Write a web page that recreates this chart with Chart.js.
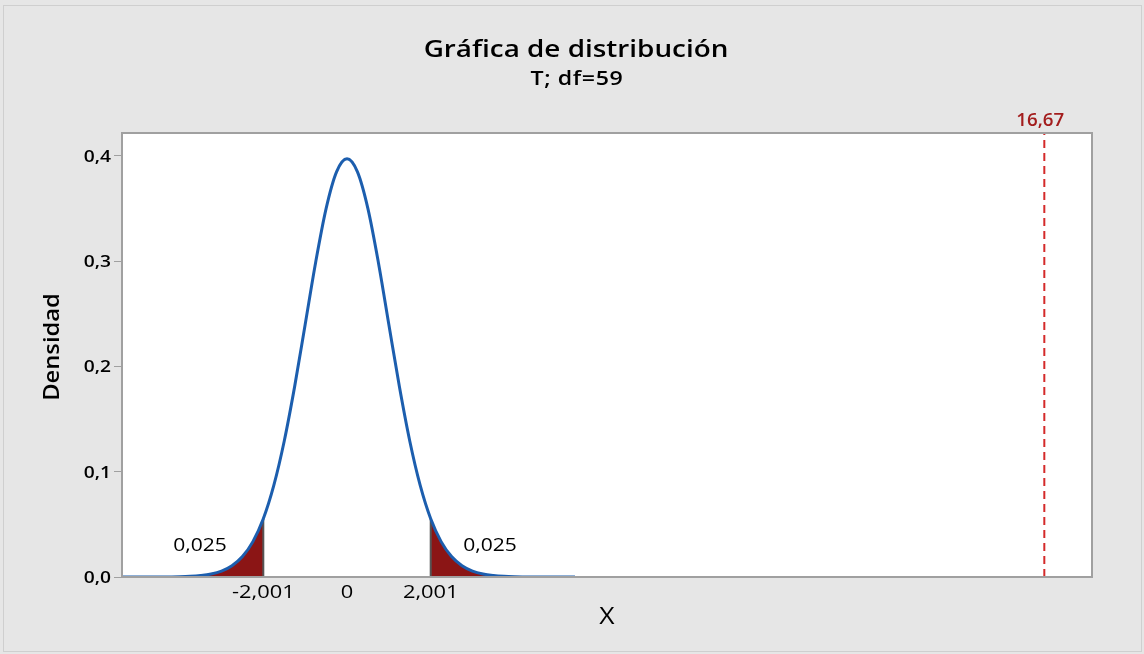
<!DOCTYPE html>
<html>
<head>
<meta charset="utf-8">
<script src="https://cdn.jsdelivr.net/npm/chart.js@4/dist/chart.umd.min.js"></script>
<style>
  html, body { margin: 0; padding: 0; background: #e6e6e6; }
  #wrap { width: 1144px; height: 654px; }
</style>
</head>
<body>
<div id="wrap"><canvas id="distChart" width="1144" height="654"></canvas></div>
<script>
// ── Data ──────────────────────────────────────────────────
const xVals = [-5.45, -5, -4.5, -4, -3.75, -3.5, -3.25, -3, -2.75, -2.5, -2.25, -2.001,
  -1.75, -1.5, -1.25, -1, -0.75, -0.5, -0.25, 0,
  0.25, 0.5, 0.75, 1, 1.25, 1.5, 1.75,
  2.001, 2.25, 2.5, 2.75, 3, 3.25, 3.5, 3.75, 4, 4.5, 5, 5.45];
const density = [0, 0.00001, 0.00006, 0.0003, 0.00065, 0.0014, 0.0028, 0.0056, 0.0107, 0.0194, 0.0336, 0.0553,
  0.0870, 0.1292, 0.1813, 0.2399, 0.2988, 0.3499, 0.3848, 0.3972,
  0.3848, 0.3499, 0.2988, 0.2399, 0.1813, 0.1292, 0.0870,
  0.0553, 0.0336, 0.0194, 0.0107, 0.0056, 0.0028, 0.0014, 0.00065, 0.0003, 0.00006, 0.00001, 0];

const critLow  = -2.001;
const critHigh = 2.001;
const tailArea = '0,025';
const testStat = 16.67;
const testLabel = '16,67';

const xTicks      = [-2.001, 0, 2.001];
const xTickLabels = ['-2,001', '0', '2,001'];
const yTicks      = [0, 0.1, 0.2, 0.3, 0.4];
const yTickLabels = ['0,0', '0,1', '0,2', '0,3', '0,4'];

const X_MIN = -5.379, X_MAX = 17.81, Y_MAX = 0.4217;

// ── Colours / fonts ───────────────────────────────────────
const BG        = '#e6e6e6';
const FRAME     = '#a0a0a0';
const CURVE     = '#1c5eae';
const TAIL_FILL = '#8b1515';
const CRIT_LINE = '#555555';
const REF_LINE  = '#d42a2a';
const REF_TEXT  = '#a31d1d';
const FONT      = "'Open Sans', 'Noto Sans', sans-serif";

const pts = xVals.map((x, i) => ({ x: x, y: density[i] }));
const leftTail  = pts.filter(p => p.x <= critLow);
const rightTail = pts.filter(p => p.x >= critHigh);
const critIdxL = xVals.indexOf(critLow);
const critIdxH = xVals.indexOf(critHigh);

// text helper: k stretches the text along its baseline (reference font runs wide)
function txt(ctx, s, x, y, font, o) {
  o = o || {};
  ctx.save();
  ctx.translate(x, y);
  if (o.rot) ctx.rotate(o.rot);
  ctx.scale(o.k || 1, 1);
  ctx.font = font;
  ctx.fillStyle = o.color || '#000';
  ctx.textAlign = o.align || 'center';
  ctx.textBaseline = o.base || 'alphabetic';
  if (o.ls) ctx.letterSpacing = o.ls;
  ctx.fillText(s, 0, 0);
  ctx.restore();
}

// ── Custom drawing: backgrounds, frame, titles, labels ────
const decor = {
  id: 'decor',
  beforeDraw(chart) {
    const { ctx, chartArea: a } = chart;
    ctx.save();
    ctx.fillStyle = BG;
    ctx.fillRect(0, 0, chart.width, chart.height);
    ctx.strokeStyle = '#cfcfcf';
    ctx.lineWidth = 1;
    ctx.strokeRect(3.5, 5.5, chart.width - 6, chart.height - 8);
    ctx.fillStyle = '#ffffff';
    ctx.fillRect(a.left, a.top, a.right - a.left, a.bottom - a.top);
    ctx.restore();
  },
  afterDraw(chart) {
    const { ctx, chartArea: a, scales } = chart;
    const sx = scales.x, sy = scales.y;
    ctx.save();
    // plot frame
    ctx.strokeStyle = FRAME;
    ctx.lineWidth = 2;
    ctx.strokeRect(a.left, a.top, a.right - a.left, a.bottom - a.top);
    ctx.restore();

    txt(ctx, 'Gráfica de distribución', 576, 57, `600 24px ${FONT}`, { k: 1.16 });
    txt(ctx, 'T; df=59', 577, 85, `600 19px ${FONT}`, { k: 1.22, ls: '0.5px' });

    // tick labels from the library's scales
    yTicks.forEach((v, i) => {
      txt(ctx, yTickLabels[i], a.left - 11, sy.getPixelForValue(v) + 6, `600 16px ${FONT}`, { k: 1.2, align: 'right' });
    });
    xTicks.forEach((v, i) => {
      txt(ctx, xTickLabels[i], sx.getPixelForValue(v), 598, `400 19px ${FONT}`, { k: 1.15 });
    });

    // axis titles
    txt(ctx, 'X', (a.left + a.right) / 2, 624, `400 23px ${FONT}`, { k: 1.15 });
    txt(ctx, 'Densidad', 59, 347, `600 21px ${FONT}`, { k: 1.13, rot: -Math.PI / 2 });

    // tail areas
    txt(ctx, tailArea, 200, 551, `400 18px ${FONT}`, { k: 1.17 });
    txt(ctx, tailArea, 490, 551, `400 18px ${FONT}`, { k: 1.17 });

    // reference value label
    txt(ctx, testLabel, sx.getPixelForValue(testStat) - 4, 126, `600 18px ${FONT}`, { k: 1.04, color: REF_TEXT });
  }
};

new Chart(document.getElementById('distChart'), {
  type: 'line',
  data: {
    datasets: [
      {
        data: leftTail,
        borderWidth: 0,
        pointRadius: 0,
        fill: 'origin',
        backgroundColor: TAIL_FILL,
        cubicInterpolationMode: 'monotone',
        order: 3
      },
      {
        data: rightTail,
        borderWidth: 0,
        pointRadius: 0,
        fill: 'origin',
        backgroundColor: TAIL_FILL,
        cubicInterpolationMode: 'monotone',
        order: 3
      },
      {
        data: [{ x: critLow, y: 0 }, { x: critLow, y: density[critIdxL] }],
        borderColor: CRIT_LINE,
        borderWidth: 2,
        pointRadius: 0,
        fill: false,
        order: 2
      },
      {
        data: [{ x: critHigh, y: 0 }, { x: critHigh, y: density[critIdxH] }],
        borderColor: CRIT_LINE,
        borderWidth: 2,
        pointRadius: 0,
        fill: false,
        order: 2
      },
      {
        data: pts,
        borderColor: CURVE,
        borderWidth: 3,
        pointRadius: 0,
        fill: false,
        cubicInterpolationMode: 'monotone',
        order: 1
      },
      {
        data: [{ x: testStat, y: 0 }, { x: testStat, y: Y_MAX }],
        borderColor: REF_LINE,
        borderWidth: 2,
        borderDash: [8, 5],
        pointRadius: 0,
        fill: false,
        order: 0
      }
    ]
  },
  options: {
    responsive: false,
    animation: false,
    layout: { padding: { top: 133, right: 52, bottom: 0, left: 0 } },
    plugins: {
      legend: { display: false },
      tooltip: { enabled: false },
      title: { display: false }
    },
    scales: {
      x: {
        type: 'linear',
        min: X_MIN,
        max: X_MAX,
        afterFit: (s) => { s.height = 77; },
        afterBuildTicks: (s) => { s.ticks = xTicks.map(v => ({ value: v })); },
        grid: { display: false, drawTicks: false },
        border: { display: false },
        ticks: { display: false }
      },
      y: {
        min: 0,
        max: Y_MAX,
        afterFit: (s) => { s.width = 122; },
        afterBuildTicks: (s) => { s.ticks = yTicks.map(v => ({ value: v })); },
        grid: { drawOnChartArea: false, drawTicks: true, tickLength: 8, color: FRAME, lineWidth: 1 },
        border: { display: false },
        ticks: { display: false }
      }
    }
  },
  plugins: [decor]
});
</script>
</body>
</html>
